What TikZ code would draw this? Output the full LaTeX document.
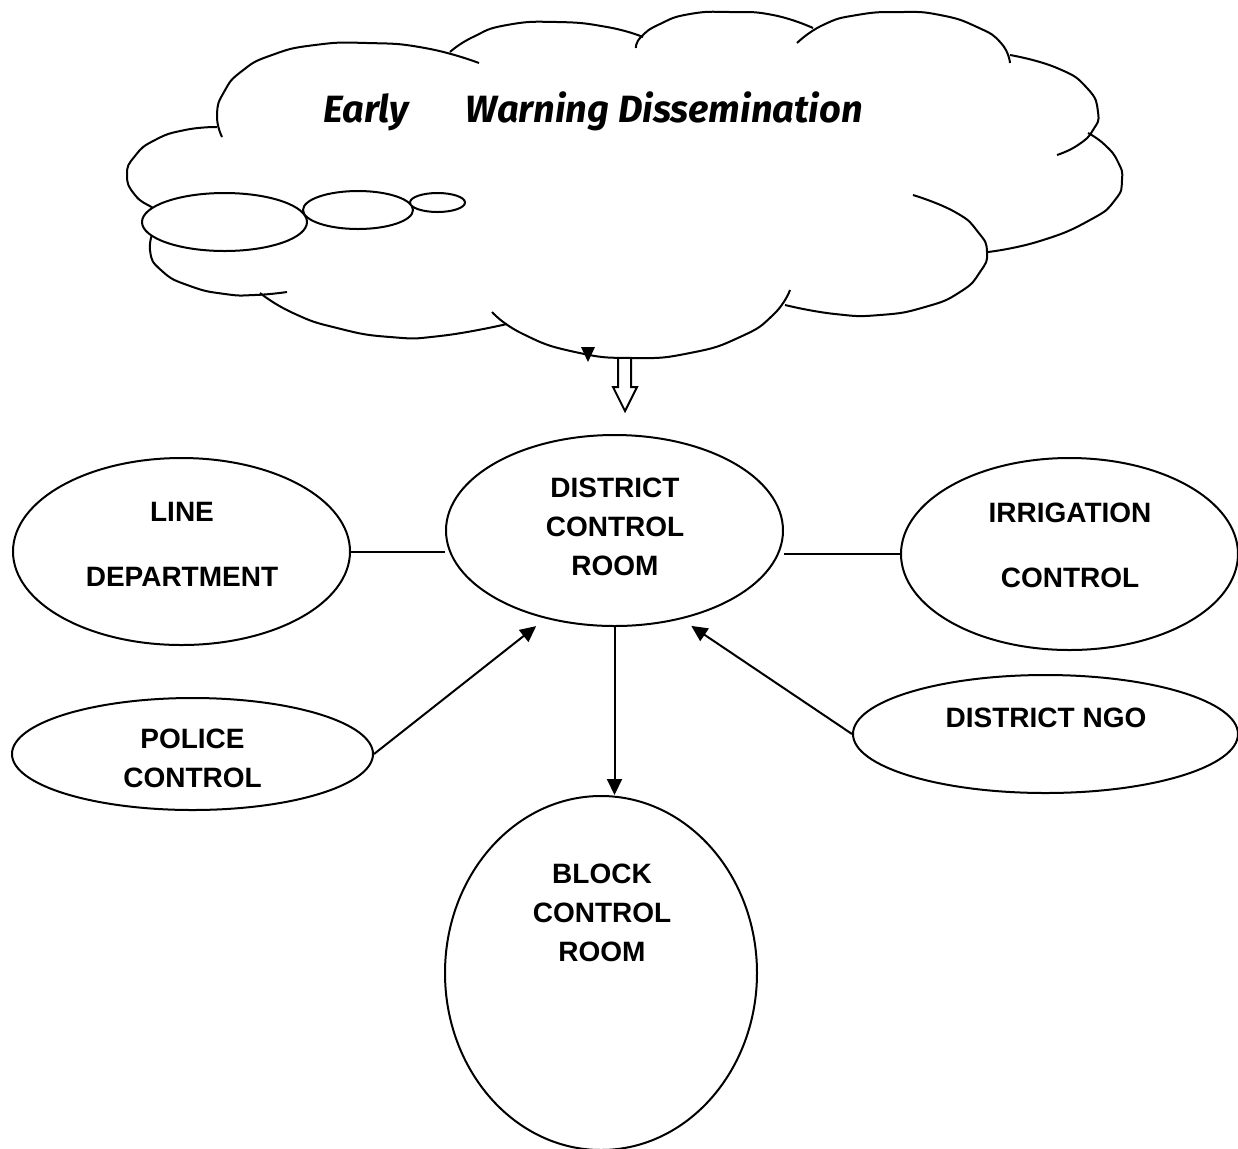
\documentclass[tikz,border=0pt]{standalone}
\usepackage{fontspec}
\setmainfont{Liberation Sans}
\newfontfamily\cloudfont{Fira Sans}
\usetikzlibrary{shapes.geometric,arrows.meta}

\begin{document}
\begin{tikzpicture}[x=0.5pt, y=-0.5pt, line width=1pt,
                    oval/.style = {ellipse, draw, fill=white, inner sep=0pt},
                    lbl/.style = {align=center, inner sep=0pt, font=\fontsize{14}{19.5}\selectfont\bfseries},
                    arr/.style = {-{Triangle[length=8pt, width=7.5pt]}},
                    puff/.style = {smooth, tension=0.9}]
  \useasboundingbox (0,0) rectangle (1238,1148);

  \draw plot[puff] coordinates {(222,137) (217,115) (224,92) (242,71) (272,55) (315,45) (367,43) (425,48) (479,63)};
  \draw plot[puff] coordinates {(450,52) (473,37) (507,25) (557,22) (607,27) (643,37)};
  \draw plot[puff] coordinates {(636,48) (641,37) (660,24) (690,14) (730,12) (773,15) (813,28)};
  \draw plot[puff] coordinates {(797,43) (823,25) (857,15) (900,12) (940,15) (977,27) (1001,43) (1010,63)};
  \draw plot[puff] coordinates {(1010,55) (1057,68) (1087,88) (1098,112) (1093,130) (1078,145) (1057,155)};
  \draw plot[puff] coordinates {(1088,133) (1105,145) (1118,162) (1122,180) (1115,200) (1090,220) (1040,241) (988,252)};
  \draw plot[puff] coordinates {(913,195) (955,212) (978,232) (987,252) (980,272) (960,292) (925,307) (880,315) (835,314) (785,305)};
  \draw plot[puff] coordinates {(492,312) (523,334) (575,352) (633,358) (690,353) (740,337) (773,315) (790,290)};
  \draw plot[puff] coordinates {(260,293) (293,313) (337,328) (390,337) (440,336) (507,324)};
  \draw plot[puff] coordinates {(156,225) (150,250) (162,271) (190,286) (225,294) (255,295) (287,292)};
  \draw plot[puff] coordinates {(217,127) (185,130) (155,140) (135,156) (127,175) (135,195) (153,208) (165,215)};

  \node [oval, minimum width=82.5pt, minimum height=29pt] (bub1) at (224.5,222) {};
  \node [oval, minimum width=55pt, minimum height=19pt] (bub2) at (358,210) {};
  \node [oval, minimum width=27.5pt, minimum height=9.5pt] (bub3) at (437.5,202.5) {};

  \node [anchor=base, font=\cloudfont\bfseries\itshape\fontsize{19}{23}\selectfont] (title) at (593,122) {Early\hspace{1.5em}Warning Dissemination};

  \fill (581,347) -- (595,347) -- (588,362) -- cycle;
  \draw (618,358) -- (618,387) -- (613,387) -- (625,411) -- (637,387) -- (631,387) -- (631,358);

  \node [oval, minimum width=168.5pt, minimum height=95.5pt] (dcr) at (614.5,530.5) {};
  \node [oval, minimum width=168.5pt, minimum height=93.5pt] (linedep) at (181.5,551.5) {};
  \node [oval, minimum width=168.5pt, minimum height=96pt] (irrig) at (1069.5,554) {};
  \node [oval, minimum width=180.5pt, minimum height=56pt] (police) at (192.5,754) {};
  \node [oval, minimum width=192.5pt, minimum height=59pt] (ngo) at (1045.5,734) {};
  \node [oval, minimum width=156pt, minimum height=177pt] (block) at (601,973) {};

  \node [lbl] (dcrtext) at (615,527) {DISTRICT\\CONTROL\\ROOM};
  \node [lbl] (linetext) at (182,544.5) {LINE\\[13pt]DEPARTMENT};
  \node [lbl] (irrigtext) at (1070,545) {IRRIGATION\\[13pt]CONTROL};
  \node [lbl] (ngotext) at (1046,718) {DISTRICT NGO};
  \node [lbl] (blocktext) at (602,913) {BLOCK\\CONTROL\\ROOM};
  \begin{scope}
    \clip (0,690) rectangle (400,787);
    \node [lbl] (policetext) at (192.5,758.5) {POLICE\\CONTROL};
  \end{scope}

  \draw (linedep.east) -- (linedep.east -| dcr.west);
  \draw (dcr.east |- irrig.west) -- (irrig.west);
  \draw [arr, shorten >=6pt] (police.east) -- (dcr.232);
  \draw [arr, shorten >=6pt] (ngo.west) -- (dcr.307);
  \draw [arr] (dcr.south) -- (dcr.south |- block.north);
\end{tikzpicture}
\end{document}
